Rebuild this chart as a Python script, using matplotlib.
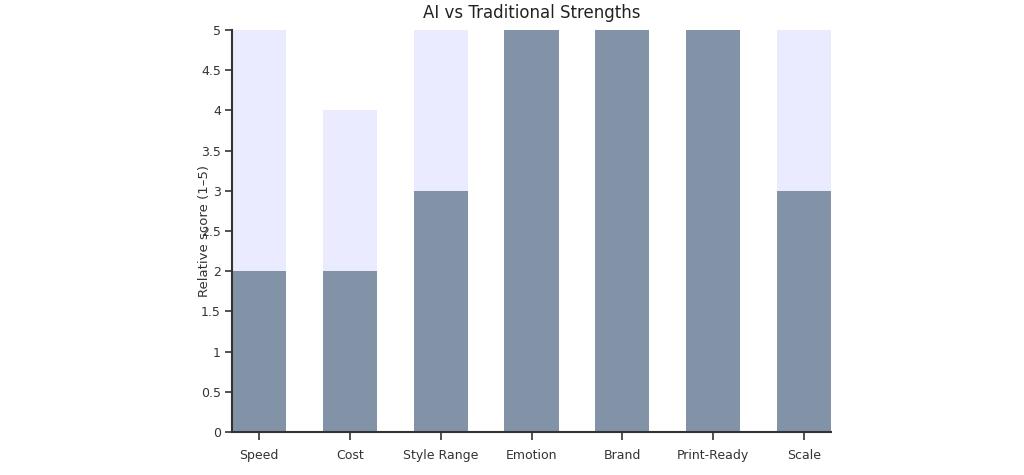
import matplotlib
matplotlib.use("Agg")
import matplotlib.pyplot as plt
import numpy as np

categories = ["Speed", "Cost", "Style Range", "Emotion", "Brand", "Print-Ready", "Scale"]
ai_scores = [5, 4, 5, 2, 3, 3, 5]
traditional_scores = [2, 2, 3, 5, 5, 5, 3]
yticks = [0, 0.5, 1, 1.5, 2, 2.5, 3, 3.5, 4, 4.5, 5]
ytick_labels = ["0", "0.5", "1", "1.5", "2", "2.5", "3", "3.5", "4", "4.5", "5"]

plt.rcParams['font.family'] = ['DejaVu Sans']
text_color = "#333333"

fig = plt.figure(figsize=(10.24, 4.75), dpi=100)
ax = fig.add_axes([232/1024, 43/475, 599/1024, 402/475])

x = np.arange(len(categories))
ax.bar(x, ai_scores, width=0.6, color="#EBEBFF", edgecolor="none", label="AI")
ax.bar(x, traditional_scores, width=0.6, color="#8393A7", edgecolor="none", label="Traditional")

ax.set_xlim(-0.3, len(categories) - 0.7)
ax.set_ylim(0, 5)
ax.set_xticks(x)
ax.set_xticklabels(categories, fontsize=9, color=text_color)
ax.set_yticks(yticks)
ax.set_yticklabels(ytick_labels, fontsize=9, color=text_color)

for s in ["top", "right"]:
    ax.spines[s].set_visible(False)
for s in ["left", "bottom"]:
    ax.spines[s].set_color("#333333")
    ax.spines[s].set_linewidth(1.5)
ax.tick_params(axis="both", length=5, width=1.2, color="#333333", pad=3)
ax.tick_params(axis="x", length=6, pad=6)

ax.set_ylabel("Relative score (1–5)", fontsize=9.5, color=text_color)
ax.yaxis.set_label_coords(-0.035, 0.5)
ax.set_title("AI vs Traditional Strengths", fontsize=12, color="#222222", pad=9)

fig.savefig("out.png", dpi=100)
